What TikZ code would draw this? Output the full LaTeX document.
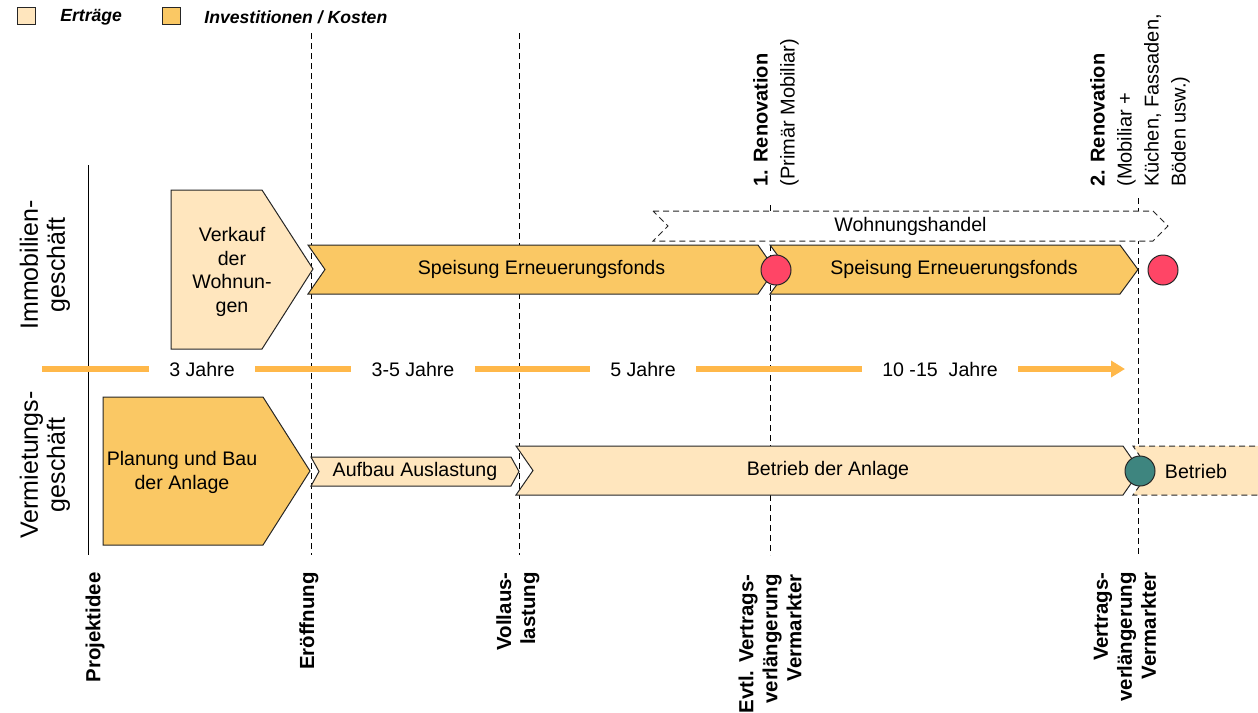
\documentclass[tikz,border=0pt]{standalone}
\usepackage{fontspec}
\setmainfont{Liberation Sans}
\usetikzlibrary{arrows.meta}
\definecolor{tlsand}{HTML}{FFE6BE}
\definecolor{tlorange}{HTML}{FAC864}
\definecolor{tlbar}{HTML}{FFB84A}
\definecolor{tlred}{HTML}{FF4566}
\definecolor{tlteal}{HTML}{3E857F}

% chevron: style, x left, x tip, y top, y bottom, depth, name, text
\newcommand{\chevron}[8]{%
  \draw[#1] (#2,#4) -- ({#3-#6},#4) -- (#3,{(#4+#5)/2}) -- ({#3-#6},#5)
    -- (#2,#5) -- ({#2+#6},{(#4+#5)/2}) -- cycle;
  \node[txt] (#7) at ({(#2+#3)/2},{(#4+#5)/2}) {#8};}

\begin{document}
\begin{tikzpicture}[
  x=0.5pt, y=-0.5pt,
  txt/.style={font=\fontsize{9.8}{11.7}\selectfont, align=center, inner sep=0pt},
  phase/.style={draw=black!85, line width=0.5pt, fill=tlsand},
  cost/.style={phase, fill=tlorange},
  trade/.style={draw=black!85, line width=0.5pt, dash pattern=on 3pt off 2pt, fill=white},
  guide/.style={black, line width=0.5pt, dash pattern=on 3pt off 2pt},
  bar/.style={tlbar, line width=2.6pt},
  span/.style={txt, inner xsep=10pt},
  key/.style={draw=black!85, line width=0.5pt, minimum width=9pt, minimum height=8.5pt, inner sep=0pt},
  keytxt/.style={anchor=west, inner sep=0pt, font=\fontsize{8.8}{10}\selectfont\bfseries\itshape},
  milestone/.style={rotate=90, anchor=east, align=right, inner sep=0pt,
                    font=\fontsize{10.2}{12}\selectfont\bfseries},
  reno/.style={rotate=90, anchor=west, align=left, inner sep=0pt,
               font=\fontsize{10}{13.5}\selectfont},
  branch/.style={rotate=90, align=center, inner sep=0pt,
                 font=\fontsize{12.5}{13.5}\selectfont},
  dot/.style={circle, draw=black!85, line width=0.5pt, minimum size=15pt, inner sep=0pt}
]
\useasboundingbox (0,0) rectangle (1258,712);

% legend
\node[key, fill=tlsand] (keyin) at (26,16) {};
\node[keytxt] (keyintxt) at (60,17) {Erträge};
\node[key, fill=tlorange] (keyout) at (171,16) {};
\node[keytxt] (keyouttxt) at (204,17) {Investitionen / Kosten};

% axes
\draw[line width=0.5pt] (88,165) -- (88,555);
\foreach \x/\y in {311/33, 519/33, 770/205, 1138/198}
  \draw[guide] (\x,\y) -- (\x,555);

% timeline
\coordinate (tl0) at (42,369);
\coordinate (tl5) at (1125,369);
\node[span] (tl1) at (202,369) {3 Jahre};
\node[span] (tl2) at (413,369) {3-5 Jahre};
\node[span] (tl3) at (643,369) {5 Jahre};
\node[span] (tl4) at (940,369) {10 -15\ \ Jahre};
\foreach \a/\b in {tl0/tl1, tl1/tl2, tl2/tl3, tl3/tl4}
  \draw[bar] (\a) -- (\b);
\draw[bar, -{Triangle[length=7pt, width=8pt]}] (tl4) -- (tl5);

% real estate branch
\draw[phase] (171,190) -- (262,190) -- (313,269) -- (262,349) -- (171,349) -- cycle;
\node[txt, font=\fontsize{9.8}{11.7}\selectfont] (sale) at (232,272) {Verkauf\\der\\Wohnun-\\gen};
\chevron{trade}{653}{1168}{211}{241}{15}{trading}{Wohnungshandel}
\chevron{cost}{308}{775}{245}{294}{17}{fonds1}{Speisung Erneuerungsfonds}
\chevron{cost}{770}{1138}{245}{294}{18}{fonds2}{Speisung Erneuerungsfonds}
\node[dot, fill=tlred] (reno1) at (776,270) {};
\node[dot, fill=tlred] (reno2) at (1163,270) {};

% rental branch
\draw[cost] (103,397) -- (263,397) -- (310,471) -- (263,545) -- (103,545) -- cycle;
\node[txt, font=\fontsize{9.8}{12}\selectfont] (build) at (182,472) {Planung und Bau\\der Anlage};
\chevron{phase}{311}{519}{457}{486}{8}{rampup}{Aufbau Auslastung}
\chevron{phase}{516}{1140}{446}{495}{17}{operate}{Betrieb der Anlage}
\draw[phase, dash pattern=on 3pt off 2pt] (1265,446) -- (1133,446) -- (1150,471)
  -- (1133,495) -- (1265,495);
\node[txt] (operate2) at (1196,471) {Betrieb};
\node[dot, fill=tlteal] (renew) at (1140,471) {};

% branch labels
\node[branch] (immo) at (45,265) {Immobilien-\\geschäft};
\node[branch] (rent) at (45,465) {Vermietungs-\\geschäft};

% renovations
\node[reno] (renotxt1) at (776,187) {\textbf{1. Renovation}\\(Primär Mobiliar)};
\node[reno] (renotxt2) at (1140,187) {\textbf{2. Renovation}\\(Mobiliar +\\Küchen, Fassaden,\\Böden usw.)};

% milestones
\node[milestone] (idea) at (95,572) {Projektidee};
\node[milestone] (open) at (309,572) {Eröffnung};
\node[milestone] (full) at (518,572) {Vollaus-\\lastung};
\node[milestone] (ext1) at (770,574) {Evtl. Vertrags-\\verlängerung\\Vermarkter};
\node[milestone] (ext2) at (1125,572) {Vertrags-\\verlängerung\\Vermarkter};
\end{tikzpicture}
\end{document}
